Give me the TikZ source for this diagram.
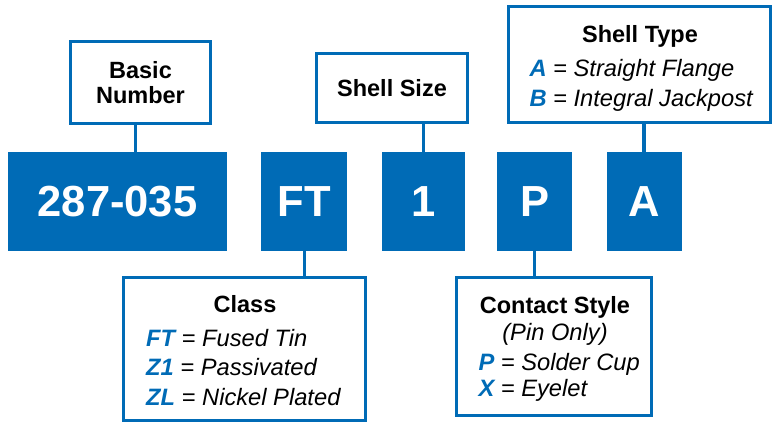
\documentclass[tikz,border=0pt]{standalone}
\usepackage{fontspec}
\setmainfont{Liberation Sans}
\usetikzlibrary{positioning}
\definecolor{B}{RGB}{0, 107, 182}

\tikzset{
  code/.style={fill=B, text=white, font=\fontsize{43.5bp}{50bp}\selectfont\bfseries,
    minimum height=99bp, inner sep=0pt},
  tag/.style={draw=B, line width=3bp, fill=white, inner sep=0pt,
    font=\fontsize{23.5bp}{25bp}\selectfont\bfseries},
  link/.style={draw=B, line width=3.5bp},
  head/.style={font=\fontsize{23.5bp}{25bp}\selectfont\bfseries, inner sep=0pt, anchor=base},
  item/.style={font=\fontsize{23.7bp}{25bp}\selectfont\itshape, inner sep=0pt, anchor=base west},
}
\newcommand{\opt}[1]{\textcolor{B}{\bfseries #1}}

\begin{document}
\begin{tikzpicture}[x=1bp, y=-1bp]
  \useasboundingbox (0,0) rectangle (775,424);

  % Codigo de pieza
  \node[code, minimum width=219bp] (nNum) at (117.5,201.5) {287-035};
  \node[code, minimum width=86bp, right=34bp of nNum] (nFT) {FT};
  \node[code, minimum width=83bp, right=34bp of nFT] (nOne) {1};
  \node[code, minimum width=75bp, right=32bp of nOne] (nP) {P};
  \node[code, minimum width=75bp, right=34bp of nP] (nA) {A};

  % Cajas de arriba
  \node[tag, minimum width=140bp, minimum height=82bp, align=center] (nBasic) at (140.5,82.5) {Basic\\Number};
  \node[tag, minimum width=151bp, minimum height=69bp] (nSize) at (392,88) {Shell Size};
  \node[tag, minimum width=262bp, minimum height=116bp] (nType) at (639.5,64.5) {};
  \node[head] (hType) at (640,42.7) {Shell Type};
  \node[item] (iTypeA) at (529.3,76.7) {\opt{A} = Straight Flange};
  \node[item] (iTypeB) at (529.3,106) {\opt{B} = Integral Jackpost};

  % Cajas de abajo
  \node[tag, minimum width=242bp, minimum height=143bp] (nClass) at (244.5,349) {};
  \node[head] (hClass) at (245,312.3) {Class};
  \node[item] (iClassFT) at (146,346.7) {\opt{FT} = Fused Tin};
  \node[item] (iClassZ1) at (146,375) {\opt{Z1} = Passivated};
  \node[item] (iClassZL) at (146,405) {\opt{ZL} = Nickel Plated};

  \node[tag, minimum width=195bp, minimum height=138bp] (nContact) at (554,346.5) {};
  \node[head] (hContact) at (555,313.3) {Contact Style};
  \node[head, font=\fontsize{23.7bp}{25bp}\selectfont\itshape] (hPin) at (555,340) {(Pin Only)};
  \node[item] (iContactP) at (478.3,370.7) {\opt{P} = Solder Cup};
  \node[item] (iContactX) at (478.3,396.7) {\opt{X} = Eyelet};

  % Conectores
  \draw[link] ([xshift=-5bp]nBasic.south) -- ([xshift=-5bp]nBasic.south |- nNum.north);
  \draw[link] (nOne.north) -- (nOne.north |- nSize.south);
  \draw[link] (nA.north) -- (nA.north |- nType.south);
  \draw[link] (nFT.south) -- (nFT.south |- nClass.north);
  \draw[link] (nP.south) -- (nP.south |- nContact.north);
\end{tikzpicture}
\end{document}
